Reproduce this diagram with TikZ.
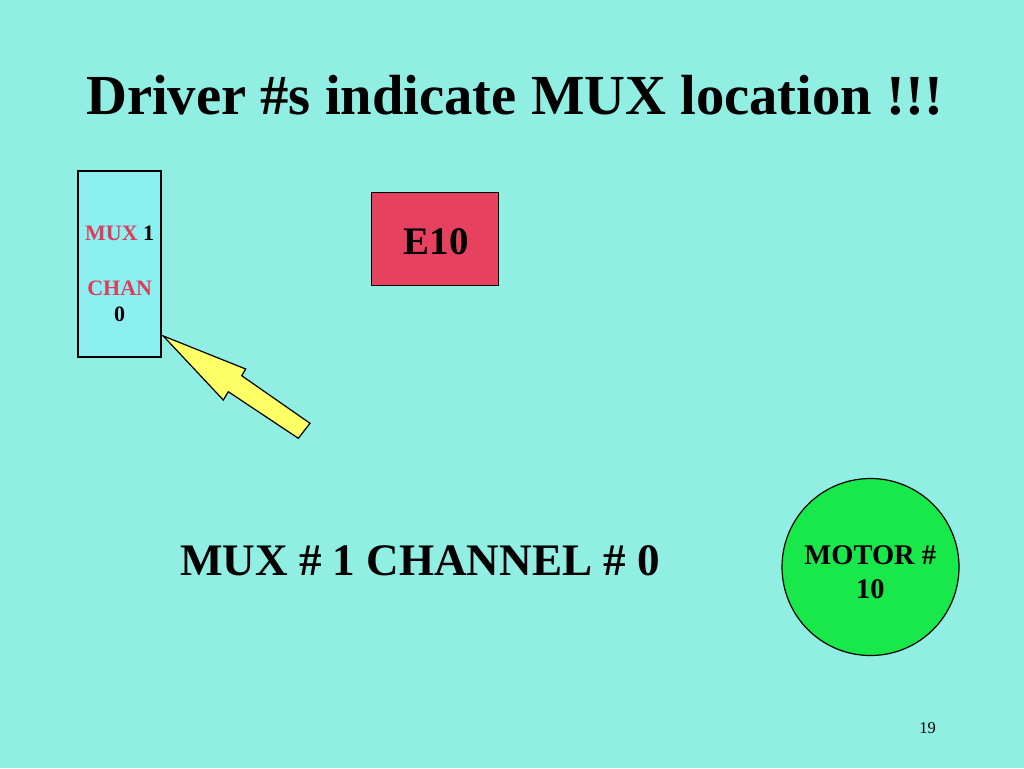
\documentclass[tikz,border=0pt]{standalone}
\usepackage{fontspec}
\setmainfont{Liberation Serif}
\definecolor{bgc}{RGB}{144,238,226}
\definecolor{boxc}{RGB}{140,240,240}
\definecolor{redc}{RGB}{230,65,95}
\definecolor{muxred}{RGB}{222,60,90}
\definecolor{greenc}{RGB}{25,232,75}
\definecolor{yellowc}{RGB}{255,255,102}
\newcommand{\fs}[1]{\fontsize{#1}{#1}\selectfont}
\begin{document}
\begin{tikzpicture}[x=1pt,y=-1pt,
  txt/.style={inner sep=0pt,anchor=base,font=\bfseries},
  boxshape/.style={draw=black,line width=1.2pt,inner sep=0pt}]
\fill[bgc] (0,0) rectangle (1024,768);
\useasboundingbox (0,0) rectangle (1024,768);
% title
\node[txt,font=\bfseries\fs{56.6}] (title) at (514.5,114.5) {Driver \#s indicate MUX location !!!};
% MUX box
\node[boxshape,fill=boxc,minimum width=83pt,minimum height=186pt] (mux) at (119.5,264) {};
\node[txt,font=\bfseries\fs{22}] (muxl) at (119.7,240) {\textcolor{muxred}{MUX} 1};
\node[txt,font=\bfseries\fs{22},text=muxred] (chan) at (119.7,295) {CHAN};
\node[txt,font=\bfseries\fs{22}] (zero) at (119.7,321.7) {0};
% E10 box
\node[boxshape,fill=redc,minimum width=126.5pt,minimum height=93pt] (e10) at (435,238.6) {};
\node[txt,font=\bfseries\fs{39}] (e10l) at (436.3,254) {E10};
% arrow
\coordinate (tip) at (163.3,336);
\draw[line width=1.2pt,fill=yellowc,line join=miter] (tip) -- (245.7,369) -- (241.7,375.7) -- (310,423.3) -- (298.3,438.3) -- (228.3,391.7) -- (223.3,400) -- cycle;
% bottom text
\node[txt,font=\bfseries\fs{45.1}] (muxch) at (420,575) {MUX \# 1 CHANNEL \# 0};
% motor
\node[draw=black,line width=1.2pt,fill=greenc,circle,minimum size=177pt,inner sep=0pt] (motor) at (870.5,567) {};
\node[txt,font=\bfseries\fs{28.5}] (motl) at (870.3,564.3) {MOTOR \#};
\node[txt,font=\bfseries\fs{28.5}] (motn) at (870.3,598.3) {10};
% page number
\node[inner sep=0pt,anchor=base,font=\fs{16.5}] (pg) at (927.5,733.3) {19};
\end{tikzpicture}
\end{document}
